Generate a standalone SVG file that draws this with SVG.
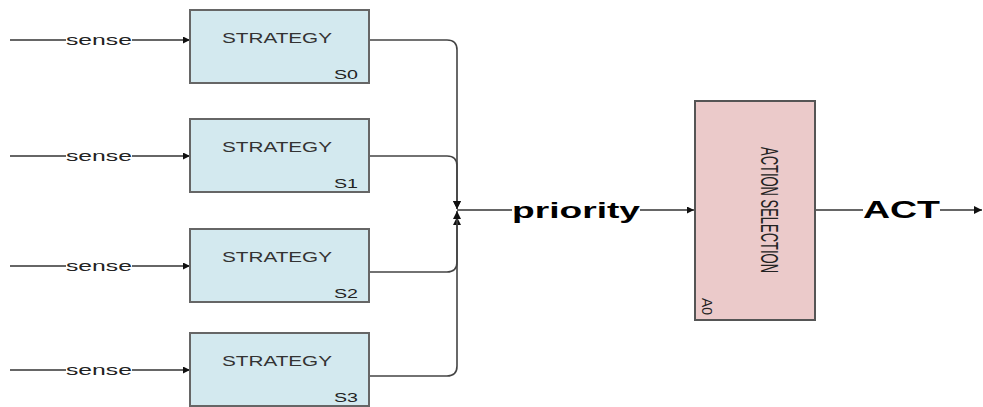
<svg xmlns="http://www.w3.org/2000/svg" width="983" height="407" viewBox="0 0 983 407">
<style>
.strat{fill:#d3e9ef;stroke:#666;stroke-width:2}
.act{fill:#ebcaca;stroke:#555;stroke-width:2}
.ln{fill:none;stroke:#333;stroke-width:1.3}
.vj{fill:none;stroke:#444;stroke-width:1.6}
.t{font-family:"Liberation Sans",Arial,sans-serif}
.sense{font-size:15px;fill:#222}
.st{font-size:14px;fill:#333}
.id{font-size:12px;fill:#222}
.big{font-weight:bold;fill:#000}
</style>
<defs>
<marker id="ah" viewBox="0 0 10 10" refX="10" refY="5" markerWidth="10" markerHeight="7" markerUnits="userSpaceOnUse" orient="auto">
<path d="M0,0 L10,5 L0,10 Z" fill="#111"/>
</marker>
<marker id="sh" viewBox="0 0 10 10" refX="10" refY="5" markerWidth="8" markerHeight="8" markerUnits="userSpaceOnUse" orient="auto">
<path d="M0,0 L10,5 L0,10 Z" fill="#111"/>
</marker>
</defs>
<rect width="983" height="407" fill="#fff"/>
<g id="connectors">
<path class="ln" d="M10,40 H190" marker-end="url(#ah)"/>
<path class="ln" d="M10,156 H190" marker-end="url(#ah)"/>
<path class="ln" d="M10,266 H190" marker-end="url(#ah)"/>
<path class="ln" d="M10,370 H190" marker-end="url(#ah)"/>
<path class="vj" d="M369,40 H447 Q457,40 457,50 V209" marker-end="url(#sh)"/>
<path class="vj" d="M369,156 H447 Q457,156 457,166 V209" marker-end="url(#sh)"/>
<path class="vj" d="M369,272 H447 Q457,272 457,262 V217" marker-end="url(#sh)"/>
<path class="vj" d="M369,376 H447 Q457,376 457,366 V211" marker-end="url(#sh)"/>
<path class="ln" d="M457,210 H694" marker-end="url(#ah)"/>
<path class="ln" d="M815,210 H982" marker-end="url(#sh)"/>
<rect x="66" y="30" width="66" height="18" fill="#fff"/>
<rect x="66" y="146" width="66" height="18" fill="#fff"/>
<rect x="66" y="256" width="66" height="18" fill="#fff"/>
<rect x="66" y="360" width="66" height="18" fill="#fff"/>
<rect x="512" y="198" width="128" height="26" fill="#fff"/>
<rect x="863" y="198" width="77" height="26" fill="#fff"/>
<text class="t sense" x="99" y="45" text-anchor="middle" textLength="66" lengthAdjust="spacingAndGlyphs">sense</text>
<text class="t sense" x="99" y="161" text-anchor="middle" textLength="66" lengthAdjust="spacingAndGlyphs">sense</text>
<text class="t sense" x="99" y="271" text-anchor="middle" textLength="66" lengthAdjust="spacingAndGlyphs">sense</text>
<text class="t sense" x="99" y="375" text-anchor="middle" textLength="66" lengthAdjust="spacingAndGlyphs">sense</text>
<text class="t big" x="512" y="218" font-size="22" textLength="128" lengthAdjust="spacingAndGlyphs">priority</text>
<text class="t big" x="863" y="218" font-size="24" textLength="77" lengthAdjust="spacingAndGlyphs">ACT</text>
</g>
<g id="S0">
<rect class="strat" x="190" y="10" width="179" height="73"/>
<text class="t st" x="277" y="43" text-anchor="middle" textLength="110" lengthAdjust="spacingAndGlyphs">STRATEGY</text>
<text class="t id" x="358" y="79" text-anchor="end" textLength="24" lengthAdjust="spacingAndGlyphs">S0</text>
</g>
<g id="S1">
<rect class="strat" x="190" y="119" width="179" height="73"/>
<text class="t st" x="277" y="152" text-anchor="middle" textLength="110" lengthAdjust="spacingAndGlyphs">STRATEGY</text>
<text class="t id" x="358" y="188" text-anchor="end" textLength="24" lengthAdjust="spacingAndGlyphs">S1</text>
</g>
<g id="S2">
<rect class="strat" x="190" y="229" width="179" height="73"/>
<text class="t st" x="277" y="262" text-anchor="middle" textLength="110" lengthAdjust="spacingAndGlyphs">STRATEGY</text>
<text class="t id" x="358" y="298" text-anchor="end" textLength="24" lengthAdjust="spacingAndGlyphs">S2</text>
</g>
<g id="S3">
<rect class="strat" x="190" y="333" width="179" height="73"/>
<text class="t st" x="277" y="366" text-anchor="middle" textLength="110" lengthAdjust="spacingAndGlyphs">STRATEGY</text>
<text class="t id" x="358" y="402" text-anchor="end" textLength="24" lengthAdjust="spacingAndGlyphs">S3</text>
</g>
<g id="A0">
<rect class="act" x="695" y="101" width="120" height="219"/>
<text class="t" font-size="23" fill="#222" transform="translate(761,210) rotate(90)" text-anchor="middle" textLength="126" lengthAdjust="spacingAndGlyphs">ACTION SELECTION</text>
<text class="t" font-size="14" fill="#222" transform="translate(702,298) rotate(90)" textLength="17" lengthAdjust="spacingAndGlyphs">A0</text>
</g>
</svg>
